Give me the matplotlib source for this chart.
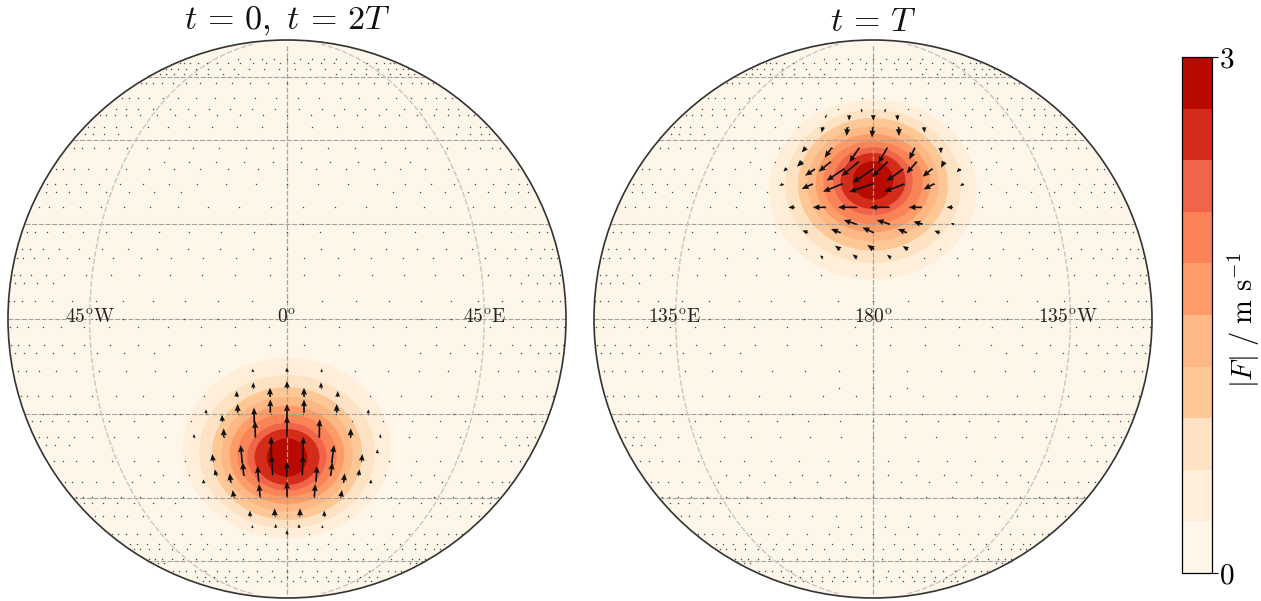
import numpy as np
import matplotlib
matplotlib.use("Agg")
import matplotlib.pyplot as plt
from matplotlib.colors import ListedColormap, BoundaryNorm
from matplotlib.cm import ScalarMappable
from matplotlib.patches import Circle, Ellipse

plt.rcParams['mathtext.fontset'] = 'cm'

# =========================
# DATA
# =========================
titles = [r'$t\,=\,0,\ t\,=\,2T$', r'$t\,=\,T$']
lon_labels = [[r'$45^{\mathrm{o}}\mathrm{W}$', r'$0^{\mathrm{o}}$', r'$45^{\mathrm{o}}\mathrm{E}$'],
              [r'$135^{\mathrm{o}}\mathrm{E}$', r'$180^{\mathrm{o}}$', r'$135^{\mathrm{o}}\mathrm{W}$']]
grid_lats = [-60, -40, -20, 0, 20, 40, 60]
grid_lons = [-45, 0, 45]
radius = 279

levels = [0, 0.3, 0.6, 0.9, 1.2, 1.5, 1.8, 2.1, 2.4, 2.7, 3.0]
band_colors = ['#fff6ea', '#feeeda', '#fde3c4', '#fdc895', '#fdb885',
               '#fd9c67', '#fa8358', '#f0654a', '#d42c1a', '#b80a00']

# contour bands of the blob of the left disc (outer to inner), in map units
band_halfw = [103.7, 87.8, 75.0, 65.8, 57.3, 49.7, 39.7, 32.5, 20.3]
band_top = [-39.3, -56.0, -68.3, -77.7, -86.7, -95.0, -103.7, -110.0, -119.3]
band_bot = [-219.3, -209.3, -201.0, -192.7, -185.0, -177.7, -171.7, -166.0, -157.7]

# small arrows: one row per latitude, longitudes spread +- from the central meridian
dot_lat = [68.6, 66.7, 63.5, 61.4, 57.9, 52.4, 48.7, 47.0, 43.4, 41.5, 37.9, 34.3, 32.5, 28.9,
           27.1, 23.6, 19.8, 18.2, 14.5, 12.6, 9.1, 7.4, 3.7, 0.0, -1.7, -5.3, -7.1, -10.7, -14.3, -16.1,
           -19.8, -21.4, -25.0, -26.8, -30.5, -34.1, -35.8, -39.6, -41.3, -44.8, -48.2, -50.3, -53.6,
           -55.6, -59.3, -60.8, -64.6, -67.6, -69.9]
dot_lon_min = [0, 3.6, 3.6, 21.6, 0, 3.6, 3.6, 0, 0, 54, 3.6, 3.6, 0, 0,
               25.2, 3.6, 3.6, 0, 0, 3.6, 3.6, 57.6, 0, 0, 3.6, 3.6, 28.8, 0, 0, 3.6,
               3.6, 0, 0, 61.2, 3.6, 3.6, 0, 0, 32.4, 3.6, 3.6, 0, 0,
               3.6, 3.6, 64.8, 0, 0, 3.6]
dot_lon_max = [28.8, 75.6, 75.6, 72, 79.2, 75.6, 68.4, 79.2, 79.2, 75.6, 75.6, 32.4, 79.2, 79.2,
               75.6, 75.6, 3.6, 79.2, 79.2, 82.8, 82.8, 79.2, 86.4, 43.2, 82.8, 82.8, 79.2, 79.2, 7.2, 82.8,
               68.4, 79.2, 79.2, 75.6, 75.6, 39.6, 79.2, 79.2, 75.6, 75.6, 10.8, 79.2, 72,
               75.6, 75.6, 79.2, 72, 57.6, 64.8]
dot_step = 7.2

# big arrows, left disc
left_x = [0, -34.3, 34.7, -33.7, 0, 34, -50.3, -17, 17, 50.7, -49.3, -16.7, 17, 49.7, -64.7, -81, 81.3,
          -63.3, 63.7, -31.7, -32.7, 0, 0, 32.3, -93, 93.3, 90.3, -15.7, -14.3, 16, 15.3, 0, 0,
          -44.7, -43.3, 44.7, 43.7, -28.3, -27, 29, 27.3, -74, -71, -56.3, -53.3, 74.7, 71.7, 56.7, 54,
          -83.3, 83.7, -37, -12.3, 13, 37.3, -11.3, 12, 0, -34.7, 35.3]
left_y = [-52.7, -52.7, -52.7, -68.7, -68.7, -68.7, -77.7, -77.7, -77.7, -77.7, -93.7, -93.7, -93.7, -93.7,
          -102, -94.3, -94.3, -118.3, -118.3, -118.3, -104.3, -117.7, -101, -118.3, -118.3, -118.3, -134.3,
          -137.7, -156, -137.7, -156, -158.3, -177.7, -144.3, -156.7, -144.3, -156.7, -162.7, -177.7, -162.7,
          -177.7, -141.7, -156, -163.3, -177.7, -141.7, -156, -163.3, -177.7, -164.3, -164.3, -197, -196.7,
          -196.7, -197, -208.7, -208.7, -215, -208.7, -208.7]
left_u = [0, 0, 0, 0, 0, 0, 0, 0, 0, 0, 0, 0, 0, 0, -0.3, 0, 0,
          0, 0, -0.3, -0.3, 0, 0, 0.3, 0, 0, 0, 0, -1.3, 0.3, 0.7, 0, 0,
          -1.7, -1, 2.3, 1.7, -1.3, -1, 1, 1, -0.7, -1.3, -1, -1, 0.7, 1, 1, 1,
          -0.3, 0.3, 0, 0, 0, 0, 0, 0, 0, 0, 0]
left_v = [4.3, 3, 3, 5.3, 6.7, 5.3, 5.7, 9, 9, 5.7, 8.7, 13.3, 13.3, 8.7, 6.3, 4, 4,
          9, 9, 16.3, 15.7, 20.7, 16, 18, 3.3, 3.3, 4, 20, 20, 20, 20, 15.7, 15,
          18.3, 13.3, 18.3, 13.3, 15.7, 12.7, 15.7, 12.7, 6.7, 5.7, 9, 6.7, 6.7, 5.7, 9, 6.7,
          4, 4, 5.3, 7.3, 7.3, 5.3, 3.7, 3.7, 4, 2.7, 2.7]

# big arrows, right disc
right_x = [-23.7, 0.3, 24.3, -47.3, -11.3, 12, -50.3, -25.7, -0.3, 25.7, 51,
           -67, -41.3, -13.7, 14.3, 42, 67.7, -70.7, -42.3, -14.3, 14.7, 43.7, 71.3,
           -86.3, -58, -28.7, 0.3, 30.3, 59.3, 87, -90.3, -60.3, -30.3, 0.3, 31.3, 61.3, 90.3,
           -79, -47.3, -16.3, 16.3, 48.7, 79.3, -16.3, 17, 49.7, 81,
           -32.7, 0.7, 33.7, 66.3, -65.7, -33, 1, 34.7, -50.3, -16.3, 17.7]
right_y = [203.7, 204, 203.7, 203, 209, 209, 191.7, 191.7, 191.7, 191.7, 191.7,
           171.3, 171.3, 171.3, 171.3, 171.3, 171.3, 157.3, 157.3, 157.3, 157.3, 157.3, 157.3,
           150.7, 150, 150.3, 150, 150, 150.3, 150, 135, 135, 135.3, 135.3, 135, 135.3, 135,
           111.7, 111.7, 111.7, 111.7, 111.7, 111.7, 94.7, 94.7, 94.7, 94.7,
           86.3, 86.3, 86.3, 86.3, 86.7, 69.7, 69.7, 69.7, 61.3, 61.3, 61.3]
right_u = [-0.3, 0, 0.3, 0, 0, 0, -1, -0.7, -0.7, 0.3, 0.7,
           -4.3, -7, -10, -9, -5.7, 0.3, -5.3, -12, -17, -15.7, -10, -3.3,
           -3.3, -10, -17.7, -20.7, -16.7, -9.7, -3.3, -3.3, -11, -19.7, -24, -20, -10.7, -3.3,
           -5.7, -13, -18.7, -19.3, -13, -5.7, -13, -13.3, -9.3, -3.3,
           -9.3, -11.3, -9, -5, -5, -5, -6.7, -5, -2.7, -4, -3.7]
right_v = [-5.3, -5.7, -5.3, -2.5, -2.7, -2.7, -5.3, -8.7, -10.3, -8.7, -5.3,
           -4.7, -10, -14.7, -15.7, -11.7, -5.7, -5, -10, -14.3, -15, -11.7, -6,
           -3.3, -6.7, -12, -13.7, -12, -8, -3.3, -2, -5, -8, -8.3, -7.7, -5.7, -2,
           0, 0, 0, 0, 0, 0, 4.3, 4.3, 2.7, 1,
           3.7, 5.3, 3.7, 2, 1.7, 3.7, 4.3, 3.3, 2.3, 3.3, 3]


def project(lat, lon):
    # orthographic, central meridian at lon = 0
    lat, lon = np.broadcast_arrays(lat, lon)
    la = np.radians(lat)
    lo = np.radians(lon)
    return radius * np.cos(la) * np.sin(lo), radius * np.sin(la)


def draw_disc(ax, title, labels, label_x, flip, ax_x, ax_y, ax_u, ax_v):
    ax.set_xlim(-281, 281)
    ax.set_ylim(-281, 281)
    ax.set_aspect('equal')
    ax.axis('off')

    disc = Circle((0, 0), radius, fc=band_colors[0], ec='none', zorder=0)
    ax.add_patch(disc)

    # contour bands
    for i in range(len(band_halfw)):
        top, bot = band_top[i] * flip, band_bot[i] * flip
        ax.add_patch(Ellipse((0, (top + bot) / 2), 2 * band_halfw[i], abs(top - bot),
                             fc=band_colors[i + 1], ec='none', zorder=1))

    # graticule
    for lat in grid_lats:
        x, y = project(lat, np.linspace(-90, 90, 181))
        ax.plot(x, y, color='#a5a09b', lw=0.8, ls=(0, (4.5, 1.5)), zorder=2)
    for lon in grid_lons:
        x, y = project(np.linspace(-80, 80, 161), lon)
        if lon == 0:
            ax.plot(x, y, color='#a8a4a0', lw=0.9, ls=(0, (4, 1.5)), zorder=2)
        else:
            ax.plot(x, y, color='#c9c6c2', lw=1.0, ls=(0, (4, 1.5)), zorder=2)

    # background dots
    xs, ys = [], []
    for lat, lo0, lo1 in zip(dot_lat, dot_lon_min, dot_lon_max):
        lons = np.arange(lo0, lo1 + 0.1, dot_step)
        lons = np.concatenate([lons, -lons[lons > 0]])
        x, y = project(lat, lons)
        xs.extend(x)
        ys.extend(y)
    ax.scatter(xs, ys, s=1.1, color='#4a4a4a', linewidths=0, zorder=3)

    # arrows
    ax.quiver(ax_x, ax_y, ax_u, ax_v, angles='xy', scale_units='xy', scale=1, pivot='tail',
              units='xy', width=1.7, headwidth=3.6, headlength=4.2, headaxislength=3.8,
              minlength=0.3, color='#111111', zorder=4)

    # outline on top
    ax.add_patch(Circle((0, 0), radius, fc='none', ec='#333333', lw=1.2, zorder=5))

    for x, s in zip(label_x, labels):
        ax.text(x, 2, s, fontsize=14, ha='center', va='center', color='#222222', zorder=6)
    ax.set_title(title, fontsize=24.5, pad=4, color='#111111')


W, H = 1261, 601
fig = plt.figure(figsize=(W / 100, H / 100), dpi=100)

ax1 = fig.add_axes([6 / W, (H - 319 - 281) / H, 562 / W, 562 / H])
ax2 = fig.add_axes([592 / W, (H - 319 - 281) / H, 562 / W, 562 / H])
draw_disc(ax1, titles[0], lon_labels[0], [-197, 0, 198], 1, left_x, left_y, left_u, left_v)
draw_disc(ax2, titles[1], lon_labels[1], [-199, 0, 195], -1, right_x, right_y, right_u, right_v)

# colorbar
cax = fig.add_axes([1182 / W, (H - 573) / H, 30 / W, 516 / H])
sm = ScalarMappable(norm=BoundaryNorm(levels, len(band_colors)), cmap=ListedColormap(band_colors))
cb = fig.colorbar(sm, cax=cax, ticks=[0, 3], spacing='proportional')
cb.ax.set_yticklabels(['$0$', '$3$'], fontsize=21)
cb.ax.tick_params(length=4, width=0.8, pad=1, which='major')
cb.ax.minorticks_off()
cb.outline.set_linewidth(0.9)
cb.set_label(r'$|F|\ /\ \mathrm{m\ s}^{-1}$', fontsize=20.5, labelpad=-6, y=0.49)

fig.savefig('out.png', dpi=100)
